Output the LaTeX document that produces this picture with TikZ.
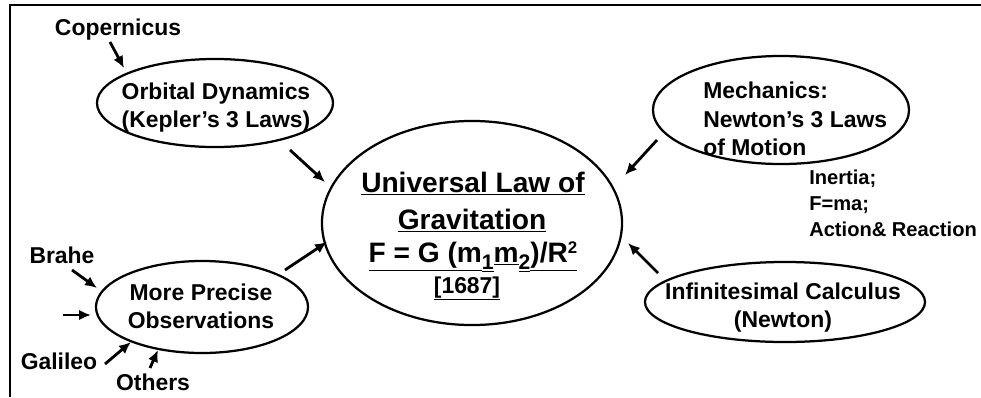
\documentclass[tikz,border=0pt]{standalone}
\usepackage{fontspec}
\setmainfont{Liberation Sans}
\usetikzlibrary{shapes.geometric,arrows.meta}

\tikzset{
  oval/.style={ellipse, draw, line width=1.6pt, inner sep=0pt},
  lbl/.style={font=\fontsize{16.3}{19.9}\selectfont\bfseries, inner sep=0pt, align=center},
  big/.style={font=\fontsize{20}{24}\selectfont\bfseries, inner sep=0pt},
  note/.style={font=\fontsize{14.3}{18.5}\selectfont\bfseries, inner sep=0pt, align=left},
  arr/.style={-{Latex[length=8.5pt,width=7.5pt]}, line width=2pt},
}

\begin{document}
\begin{tikzpicture}[x=0.025cm, y=-0.025cm]
    \useasboundingbox (0,0) rectangle (981,397);
    \draw[line width=1.5pt] (10,397) -- (10,5) -- (981,5);

    % the ovals
    \node[oval, minimum width=5.9cm, minimum height=2.2cm] (orb) at (215,103) {};
    \node[oval, minimum width=5.3cm, minimum height=2.3cm] (obs) at (202,307) {};
    \node[oval, minimum width=7.5cm, minimum height=5.1cm] (law) at (472,223) {};
    \node[oval, minimum width=6.4cm, minimum height=2.7cm] (mech) at (781,110) {};
    \node[oval, minimum width=7.0cm, minimum height=2.0cm] (calc) at (785,302) {};

    % texts
    \node[lbl] (orbtxt) at (216,108) {Orbital Dynamics\\(Kepler's 3 Laws)};
    \node[lbl] (obstxt) at (201,306) {More Precise\\Observations};
    \node[lbl, anchor=west, align=left, font=\fontsize{16.3}{20.2}\selectfont\bfseries] (mechtxt) at (703,119) {Mechanics:\\Newton's 3 Laws\\of Motion};
    \node[note, anchor=west] (laws) at (809,203) {Inertia;\\F=ma;\\Action\& Reaction};
    \node[lbl] (calctxt) at (783,308) {Infinitesimal Calculus\\(Newton)};

    \node[big, anchor=base] (univ) at (473,192) {\underline{Universal Law of}};
    \node[big, anchor=base] (grav) at (472,229) {\underline{Gravitation}};
    \node[big, anchor=base] (form) at (473,262) {\underline{F = G (m}\underline{\raisebox{-5pt}{\fontsize{15}{15}\selectfont 1}}\underline{m}\underline{\raisebox{-5pt}{\fontsize{15}{15}\selectfont 2}}\underline{)/R\raisebox{6pt}{\fontsize{12}{12}\selectfont 2}}};
    \node[lbl, anchor=base] (year) at (467,293) {\underline{[1687]}};

    % people
    \node[lbl, anchor=base] (cop) at (118,35) {Copernicus};
    \node[lbl, anchor=base] (brahe) at (62,263) {Brahe};
    \node[lbl, anchor=base] (gal) at (59,369) {Galileo};
    \node[lbl, anchor=base] (oth) at (153,390) {Others};

    % arrow ends
    \coordinate (cop-a) at (110,42);   \coordinate (cop-b) at (124,68);
    \coordinate (orb-a) at (290,150);  \coordinate (orb-b) at (325,182);
    \coordinate (obs-a) at (285,270);  \coordinate (obs-b) at (327,242);
    \coordinate (bra-a) at (72,270);   \coordinate (bra-b) at (97,288);
    \coordinate (emp-a) at (63,315);   \coordinate (emp-b) at (91,315);
    \coordinate (gal-a) at (105,364);  \coordinate (gal-b) at (131,342);
    \coordinate (oth-a) at (150,368);  \coordinate (oth-b) at (158,350);
    \coordinate (mech-a) at (657,140); \coordinate (mech-b) at (625,175);
    \coordinate (calc-a) at (658,273); \coordinate (calc-b) at (628,243);

    \draw[arr] (cop-a) -- (cop-b);
    \draw[arr] (orb-a) -- (orb-b);
    \draw[arr] (obs-a) -- (obs-b);
    \draw[arr] (bra-a) -- (bra-b);
    \draw[arr] (emp-a) -- (emp-b);
    \draw[arr] (gal-a) -- (gal-b);
    \draw[arr] (oth-a) -- (oth-b);
    \draw[arr] (mech-a) -- (mech-b);
    \draw[arr] (calc-a) -- (calc-b);
\end{tikzpicture}
\end{document}
